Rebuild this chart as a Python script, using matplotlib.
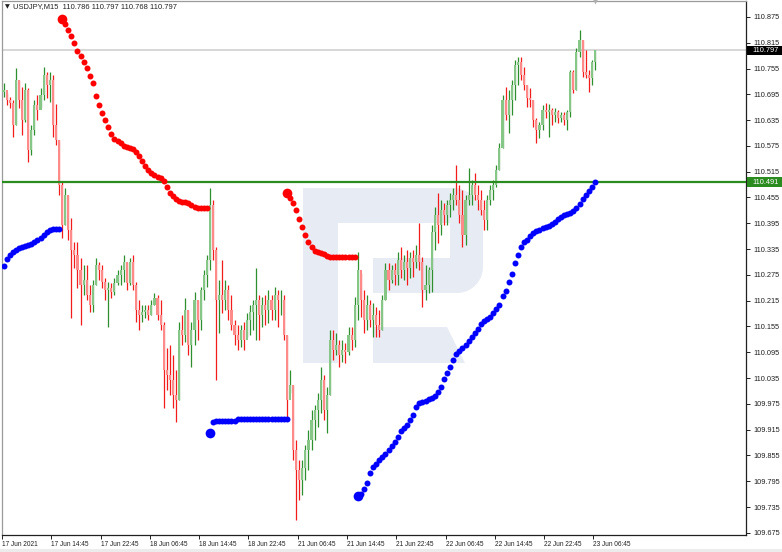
import numpy as np
import matplotlib.pyplot as plt
from matplotlib.patches import Polygon, Rectangle
from matplotlib.transforms import blended_transform_factory

plt.rcParams['font.family'] = ['Liberation Sans', 'DejaVu Sans']

# USDJPY, 30-minute buckets (open = previous close)
first_open = 110.700
highs = [
    110.721, 110.698, 110.689, 110.682, 110.756, 110.728, 110.712, 110.721, 110.710, 110.624,
    110.682, 110.694, 110.710, 110.759, 110.747, 110.747, 110.740, 110.673, 110.589, 110.491,
    110.477, 110.461, 110.407, 110.352, 110.352, 110.314, 110.298, 110.298, 110.252, 110.263,
    110.314, 110.305, 110.298, 110.268, 110.259, 110.256, 110.268, 110.287, 110.298, 110.321,
    110.305, 110.314, 110.321, 110.259, 110.217, 110.205, 110.205, 110.205, 110.217, 110.233,
    110.228, 110.217, 110.166, 110.105, 110.112, 110.089, 110.054, 110.166, 110.182, 110.221,
    110.193, 110.166, 110.235, 110.217, 110.247, 110.287, 110.321, 110.477, 110.449, 110.340,
    110.263, 110.310, 110.263, 110.252, 110.228, 110.170, 110.159, 110.159, 110.166, 110.186,
    110.205, 110.217, 110.291, 110.228, 110.224, 110.228, 110.240, 110.228, 110.247, 110.240,
    110.240, 110.228, 110.135, 110.054, 110.019, 109.891, 109.845, 109.845, 109.879, 109.914,
    109.961, 109.972, 110.000, 110.061, 110.042, 110.014, 110.147, 110.147, 110.140, 110.124,
    110.124, 110.117, 110.154, 110.154, 110.224, 110.328, 110.280, 110.240, 110.228, 110.217,
    110.210, 110.200, 110.193, 110.228, 110.303, 110.303, 110.298, 110.303, 110.328, 110.340,
    110.321, 110.333, 110.328, 110.333, 110.345, 110.396, 110.317, 110.298, 110.294, 110.391,
    110.433, 110.466, 110.449, 110.442, 110.449, 110.466, 110.477, 110.531, 110.484, 110.473,
    110.461, 110.524, 110.496, 110.512, 110.484, 110.473, 110.449, 110.461, 110.484, 110.496,
    110.531, 110.582, 110.694, 110.712, 110.705, 110.728, 110.775, 110.782, 110.782, 110.759,
    110.717, 110.710, 110.682, 110.640, 110.631, 110.670, 110.675, 110.673, 110.663, 110.663,
    110.659, 110.654, 110.654, 110.659, 110.752, 110.752, 110.803, 110.845, 110.821, 110.798,
    110.752, 110.775, 110.797,
]
lows = [
    110.689, 110.670, 110.663, 110.596, 110.624, 110.663, 110.601, 110.631, 110.538, 110.554,
    110.601, 110.635, 110.663, 110.682, 110.687, 110.677, 110.596, 110.577, 110.461, 110.361,
    110.391, 110.356, 110.175, 110.291, 110.245, 110.159, 110.228, 110.217, 110.189, 110.189,
    110.252, 110.263, 110.245, 110.217, 110.154, 110.221, 110.228, 110.252, 110.252, 110.259,
    110.240, 110.252, 110.240, 110.166, 110.147, 110.166, 110.175, 110.170, 110.182, 110.205,
    110.170, 110.147, 109.966, 110.007, 109.996, 109.966, 109.933, 109.984, 110.112, 110.119,
    110.089, 110.061, 110.112, 110.124, 110.147, 110.217, 110.247, 110.287, 110.310, 110.031,
    110.140, 110.186, 110.193, 110.170, 110.147, 110.112, 110.100, 110.107, 110.100, 110.131,
    110.135, 110.147, 110.124, 110.124, 110.154, 110.159, 110.163, 110.170, 110.170, 110.154,
    110.182, 110.124, 109.938, 110.000, 109.845, 109.705, 109.752, 109.763, 109.798, 109.821,
    109.868, 109.891, 109.921, 109.954, 109.938, 109.907, 109.996, 110.077, 110.089, 110.061,
    110.072, 110.070, 110.089, 110.100, 110.107, 110.170, 110.177, 110.140, 110.147, 110.154,
    110.131, 110.131, 110.131, 110.147, 110.217, 110.240, 110.256, 110.252, 110.252, 110.268,
    110.263, 110.252, 110.268, 110.270, 110.291, 110.287, 110.200, 110.217, 110.233, 110.235,
    110.333, 110.349, 110.368, 110.391, 110.391, 110.410, 110.426, 110.438, 110.396, 110.340,
    110.345, 110.438, 110.438, 110.449, 110.426, 110.414, 110.380, 110.380, 110.438, 110.449,
    110.480, 110.519, 110.570, 110.635, 110.605, 110.647, 110.682, 110.717, 110.728, 110.705,
    110.666, 110.666, 110.619, 110.582, 110.594, 110.612, 110.640, 110.596, 110.624, 110.631,
    110.628, 110.631, 110.624, 110.612, 110.642, 110.698, 110.705, 110.782, 110.735, 110.733,
    110.700, 110.717, 110.752,
]
closes = [
    110.705, 110.682, 110.675, 110.624, 110.728, 110.682, 110.635, 110.705, 110.566, 110.612,
    110.670, 110.659, 110.694, 110.740, 110.717, 110.728, 110.624, 110.589, 110.484, 110.391,
    110.461, 110.380, 110.333, 110.321, 110.287, 110.252, 110.263, 110.228, 110.205, 110.252,
    110.298, 110.287, 110.259, 110.240, 110.245, 110.235, 110.256, 110.275, 110.287, 110.305,
    110.256, 110.305, 110.252, 110.193, 110.182, 110.189, 110.193, 110.182, 110.205, 110.221,
    110.182, 110.159, 110.054, 110.042, 110.031, 109.996, 109.984, 110.147, 110.135, 110.193,
    110.112, 110.147, 110.217, 110.170, 110.240, 110.275, 110.310, 110.438, 110.333, 110.217,
    110.228, 110.217, 110.240, 110.193, 110.159, 110.135, 110.124, 110.147, 110.124, 110.170,
    110.189, 110.205, 110.217, 110.182, 110.205, 110.193, 110.217, 110.193, 110.228, 110.217,
    110.217, 110.135, 109.984, 110.019, 109.868, 109.821, 109.798, 109.826, 109.868, 109.891,
    109.938, 109.961, 109.984, 110.031, 109.961, 109.996, 110.124, 110.100, 110.112, 110.089,
    110.100, 110.096, 110.135, 110.124, 110.205, 110.287, 110.217, 110.170, 110.205, 110.170,
    110.182, 110.159, 110.147, 110.217, 110.287, 110.263, 110.287, 110.275, 110.310, 110.287,
    110.305, 110.291, 110.314, 110.305, 110.321, 110.305, 110.240, 110.252, 110.287, 110.375,
    110.414, 110.391, 110.426, 110.414, 110.438, 110.449, 110.461, 110.449, 110.414, 110.368,
    110.449, 110.461, 110.484, 110.461, 110.449, 110.426, 110.403, 110.449, 110.473, 110.484,
    110.519, 110.570, 110.682, 110.647, 110.682, 110.717, 110.763, 110.770, 110.740, 110.717,
    110.687, 110.682, 110.635, 110.612, 110.624, 110.659, 110.654, 110.659, 110.647, 110.654,
    110.640, 110.647, 110.635, 110.654, 110.747, 110.705, 110.794, 110.821, 110.747, 110.740,
    110.733, 110.770, 110.797,
]

# dotted trailing lines (start bucket, values)
red_1_start = 19
red_1 = [
    110.870, 110.859, 110.845, 110.831, 110.815, 110.796, 110.784, 110.770, 110.756, 110.738,
    110.721, 110.691, 110.670, 110.652, 110.635, 110.619, 110.603, 110.591, 110.587, 110.582,
    110.575, 110.573, 110.570, 110.568, 110.561, 110.552, 110.540, 110.528, 110.519, 110.512,
    110.507, 110.503, 110.500, 110.493, 110.480, 110.466, 110.459, 110.452, 110.447, 110.445,
    110.445, 110.442, 110.438, 110.433, 110.431, 110.431, 110.431, 110.431,
]
red_2_start = 92
red_2 = [
    110.466, 110.454, 110.442, 110.426, 110.405, 110.387, 110.368, 110.352, 110.340, 110.331,
    110.328, 110.326, 110.324, 110.319, 110.317, 110.317, 110.317, 110.317, 110.317, 110.317,
    110.317, 110.317, 110.317,
]
blue_1_start = 0
blue_1 = [
    110.296, 110.312, 110.321, 110.328, 110.333, 110.338, 110.340, 110.342, 110.345, 110.347,
    110.352, 110.356, 110.361, 110.368, 110.375, 110.380, 110.382, 110.382, 110.382,
]
blue_2_start = 67
blue_2 = [
    109.907, 109.933, 109.935, 109.935, 109.935, 109.935, 109.935, 109.935, 109.935, 109.940,
    109.940, 109.940, 109.940, 109.940, 109.940, 109.940, 109.940, 109.940, 109.940, 109.940,
    109.940, 109.940, 109.940, 109.940, 109.940, 109.940,
]
blue_3_start = 115
blue_3 = [
    109.761, 109.765, 109.777, 109.791, 109.814, 109.828, 109.835, 109.845, 109.852, 109.858,
    109.868, 109.877, 109.886, 109.898, 109.912, 109.919, 109.926, 109.938, 109.949, 109.968,
    109.977, 109.979, 109.982, 109.986, 109.989, 109.993, 110.003, 110.014, 110.033, 110.047,
    110.061, 110.077, 110.091, 110.098, 110.105, 110.112, 110.121, 110.131, 110.140, 110.149,
    110.161, 110.168, 110.172, 110.177, 110.186, 110.196, 110.205, 110.226, 110.238, 110.259,
    110.277, 110.303, 110.321, 110.340, 110.352, 110.356, 110.366, 110.373, 110.377, 110.380,
    110.384, 110.386, 110.389, 110.393, 110.398, 110.405, 110.410, 110.414, 110.417, 110.419,
    110.424, 110.431, 110.440, 110.452, 110.461, 110.470, 110.480, 110.491,
]

bid = 110.797
level = 110.491
header = "USDJPY,M15  110.786 110.797 110.768 110.797"
time_labels = ['17 Jun 2021', '17 Jun 14:45', '17 Jun 22:45', '18 Jun 06:45', '18 Jun 14:45',
               '18 Jun 22:45', '21 Jun 06:45', '21 Jun 14:45', '21 Jun 22:45', '22 Jun 06:45',
               '22 Jun 14:45', '22 Jun 22:45', '23 Jun 06:45']
price_ticks = np.round(np.arange(109.675, 110.876, 0.06), 3)

W, H = 782, 552
fig = plt.figure(figsize=(W / 100, H / 100), dpi=100)
ax = fig.add_axes([2 / W, 17 / H, 744 / W, 534 / H])
ax.set_xlim(-0.5, -0.5 + 744 / 3.08)
ax.set_ylim(109.670, 110.912)

# watermark logo, drawn in axes fraction
def px(x, y):
    return ((x - 2) / 744, (535 - y) / 534)

def rounded_right(x0, x1, y0, y1, r_top, r_bot):
    pts = [px(x0, y0)]
    a = np.linspace(np.pi / 2, 0, 12)
    pts += [px(x1 - r_top + r_top * np.cos(t), y0 + r_top - r_top * np.sin(t)) for t in a]
    a = np.linspace(0, -np.pi / 2, 12)
    pts += [px(x1 - r_bot + r_bot * np.cos(t), y1 - r_bot - r_bot * np.sin(t)) for t in a]
    pts.append(px(x0, y1))
    return pts

logo_c = '#e7ecf4'
ax.add_patch(Polygon(rounded_right(303, 483, 188, 293, 30, 26), closed=True, transform=ax.transAxes,
                     fc=logo_c, ec='none', zorder=0.2))
ax.add_patch(Polygon([px(303, 293), px(338, 293), px(338, 363), px(303, 363)], transform=ax.transAxes,
                     fc=logo_c, ec='none', zorder=0.2))
ax.add_patch(Polygon([px(373, 327), px(447, 327), px(465, 363), px(373, 363)], transform=ax.transAxes,
                     fc=logo_c, ec='none', zorder=0.2))
for a, b in [((338, 223), (450, 258)), ((338, 258), (373, 293))]:
    ax.add_patch(Polygon([px(a[0], a[1]), px(b[0], a[1]), px(b[0], b[1]), px(a[0], b[1])],
                         transform=ax.transAxes, fc='white', ec='none', zorder=0.3))

# price lines
ax.axhline(bid, color='#d4d4d4', lw=1.3, zorder=1)

# candles
highs = np.array(highs)
lows = np.array(lows)
closes = np.array(closes)
opens = np.r_[first_open, closes[:-1]]
x = np.arange(len(closes))
up = closes >= opens
wick_c = np.where(up, '#2e8f2e', '#f21c1c')
body_c = np.where(up, '#86c686', '#ff8a8a')
ax.vlines(x, lows, highs, colors=wick_c, lw=0.9, zorder=2)
ax.bar(x, closes - opens, bottom=opens, width=0.68, color=body_c, lw=0, zorder=3)

ax.axhline(level, color='#2a8c1f', lw=1.6, zorder=4)

# dotted lines
for start, vals, col in [(red_1_start, red_1, '#ff0000'), (red_2_start, red_2, '#ff0000'),
                         (blue_1_start, blue_1, '#0000ff'), (blue_2_start, blue_2, '#0000ff'),
                         (blue_3_start, blue_3, '#0000ff')]:
    xs = np.arange(start, start + len(vals))
    ax.plot(xs, vals, 'o', ms=4.3, color=col, mec='none', zorder=6)
    if start > 0:
        ax.plot(xs[0], vals[0], 'o', ms=7, color=col, mec='none', zorder=6)

# axes styling
for side in ['left', 'top']:
    ax.spines[side].set_color('#9a9a9a')
for side in ['right', 'bottom']:
    ax.spines[side].set_color('#202020')
for s in ax.spines.values():
    s.set_linewidth(0.9)

ax.yaxis.tick_right()
ax.set_yticks(price_ticks)
ax.set_yticklabels([f'{v:.3f}' for v in price_ticks])
ax.tick_params(axis='y', length=3, width=0.7, pad=2.5, labelsize=5.3, colors='#202020')

ax.set_xticks(np.arange(len(time_labels)) * 16 - 0.5)
ax.set_xticklabels(time_labels)
for lab in ax.get_xticklabels():
    lab.set_horizontalalignment('left')
ax.tick_params(axis='x', length=3, width=0.7, pad=1.5, labelsize=4.7, colors='#202020')

# price labels on the scale
tr = blended_transform_factory(ax.transAxes, ax.transData)
for val, col in [(bid, 'black'), (level, '#2a8c1f')]:
    ax.add_patch(Rectangle((1.001, val - 0.0115), 36 / 744, 0.023, transform=tr, fc=col, ec='none',
                           clip_on=False, zorder=10))
    ax.text(1 + 6 / 744, val, f'{val:.3f}', transform=tr, color='white', fontsize=5.3,
            va='center', ha='left', zorder=11, clip_on=False)

# shift marker at the top
ax.plot([len(closes) - 1], [1.0], marker='v', ms=5, color='#b0b0b0', mec='none',
        transform=blended_transform_factory(ax.transData, ax.transAxes), clip_on=False, zorder=10)

fig.text(5 / W, 1 - 7 / H, '\u25bc', family=['DejaVu Sans'], fontsize=4.5, va='center', color='#202020')
fig.text(13 / W, 1 - 7 / H, header, fontsize=5.4, va='center', color='#202020')
fig.patches.append(Rectangle((0, 0), 1, 3 / H, transform=fig.transFigure, fc='#ececec', ec='none'))

fig.savefig('out.png', dpi=100)
